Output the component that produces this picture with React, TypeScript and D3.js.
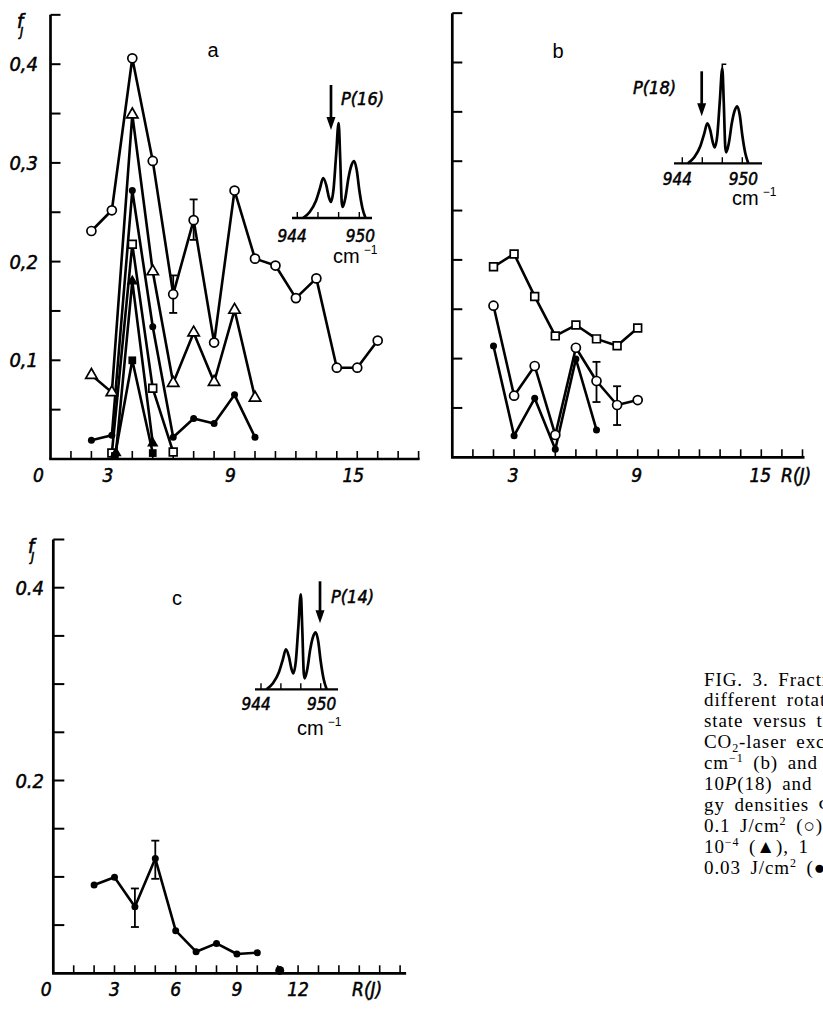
import React from 'react';
import * as d3 from 'd3';

// ---------------- DATA ----------------
// Panel a (excitation 10P(16))
const aCircleJ = [2, 3, 4, 5, 6, 7, 8, 9, 10, 11, 12, 13, 14, 15, 16];
const aCircleF = [0.231, 0.252, 0.406, 0.302, 0.167, 0.242, 0.118, 0.272, 0.203, 0.196, 0.163, 0.183, 0.0925, 0.0925, 0.12];
const aTriJ = [2, 3, 4, 5, 6, 7, 8, 9, 10];
const aTriF = [0.085, 0.0675, 0.349, 0.19, 0.077, 0.128, 0.078, 0.151, 0.062];
const aDotJ = [2, 3, 4, 5, 6, 7, 8, 9, 10];
const aDotF = [0.019, 0.024, 0.272, 0.134, 0.022, 0.041, 0.036, 0.065, 0.022];
const aSquareJ = [3, 4, 5, 6];
const aSquareF = [0.006, 0.2175, 0.0716, 0.007];
const aFilledTriJ = [3.2, 4, 5];
const aFilledTriF = [0.006, 0.18, 0.016];
const aFilledSqJ = [3.15, 4, 5];
const aFilledSqF = [0.003, 0.1, 0.006];
const aErrJ = [6, 7];
const aErrLo = [0.148, 0.222];
const aErrHi = [0.186, 0.263];

// Panel b (excitation 10P(18))
const bJ = [2, 3, 4, 5, 6, 7, 8, 9];
const bSquareF = [0.193, 0.206, 0.163, 0.123, 0.134, 0.12, 0.113, 0.131];
const bCircleF = [0.1536, 0.0624, 0.0925, 0.0226, 0.111, 0.0773, 0.053, 0.058];
const bDotJ = [2, 3, 4, 5, 6, 7];
const bDotF = [0.1128, 0.0219, 0.0598, 0.0081, 0.0996, 0.0277];
const bErrJ = [7, 8];
const bErrLo = [0.056, 0.0327];
const bErrHi = [0.0967, 0.072];

// Panel c (excitation 10P(14))
const cDotJ = [2, 3, 4, 5, 6, 7, 8, 9, 10];
const cDotF = [0.0916, 0.0996, 0.069, 0.119, 0.0442, 0.0224, 0.031, 0.02, 0.0214];
const cStrayJ = [11.1];
const cStrayF = [0.003];
const cErrJ = [4, 5];
const cErrLo = [0.048, 0.098];
const cErrHi = [0.088, 0.1376];

// Axis ticks / labels
const yTickVals = [0.05, 0.1, 0.15, 0.2, 0.25, 0.3, 0.35, 0.4, 0.45];
const aYLabelVals = [0.1, 0.2, 0.3, 0.4];
const aYLabels = ['0,1', '0,2', '0,3', '0,4'];
const cYLabelVals = [0.2, 0.4];
const cYLabels = ['0.2', '0.4'];
const aXLabelVals = [0, 3, 9, 15];
const bXLabelVals = [3, 9, 15];
const cXLabelVals = [0, 3, 6, 9, 12];

// Inset absorption spectrum (wavenumber cm^-1, relative height)
const specWn = [944.55, 945.2, 945.8, 946.2, 946.5, 946.8, 947.05, 947.25, 947.5, 947.75, 948.0, 948.15, 948.3, 948.4, 948.65, 948.95, 949.25, 949.5, 949.75, 950.0, 950.3, 950.6];
const specH = [0, 6, 17, 30, 40, 33, 21, 16, 28, 62, 95, 60, 16, 11, 20, 40, 53, 57, 48, 28, 10, 0];
const insetTickWn = [944, 946, 948, 950];
const insetLabelWn = [943.5, 950.1];
const insetLabels = ['944', '950'];
const laserWn = [947.26, 945.94, 949.93];
const laserLabels = ['P(16)', 'P(18)', 'P(14)'];

// Caption
type Seg = { t: string; s?: 'sub' | 'sup'; i?: boolean };
const captionLines: Seg[][] = [
  [{ t: 'FIG. 3. Fraction of molecules in' }],
  [{ t: 'different rotational states of the' }],
  [{ t: 'state versus the rotational quantum' }],
  [{ t: 'CO' }, { t: '2', s: 'sub' }, { t: '-laser excitation at 947.7' }],
  [{ t: 'cm' }, { t: '−1', s: 'sup' }, { t: ' (b) and 949.5 cm' }],
  [{ t: '10' }, { t: 'P', i: true }, { t: '(18) and 10' }, { t: 'P', i: true }, { t: '(14)' }],
  [{ t: 'gy densities Φ: 1 (○), 0.3' }],
  [{ t: '0.1 J/cm' }, { t: '2', s: 'sup' }, { t: ' (○), 0.03' }],
  [{ t: '10' }, { t: '−4', s: 'sup' }, { t: ' (▲), 1' }],
  [{ t: '0.03 J/cm' }, { t: '2', s: 'sup' }, { t: ' (●)' }],
];

// ---------------- STYLE ----------------
const AX_FONT = "'DejaVu Sans Condensed', 'DejaVu Sans', sans-serif";
const SANS = "'Liberation Sans', Arial, sans-serif";
const SERIF = "'Liberation Serif', 'Times New Roman', serif";

type Kind = 'circle' | 'tri' | 'dot' | 'square' | 'ftri' | 'fsq';

function Marker({ kind, x, y }: { kind: Kind; x: number; y: number }) {
  const t = `translate(${x},${y})`;
  if (kind === 'circle') return <circle cx={x} cy={y} r={4.5} fill="white" stroke="black" strokeWidth={1.7} />;
  if (kind === 'dot') return <circle cx={x} cy={y} r={3.5} fill="black" />;
  if (kind === 'tri') return <path transform={t} d={d3.symbol(d3.symbolTriangle, 56)() || ''} fill="white" stroke="black" strokeWidth={1.7} />;
  if (kind === 'ftri') return <path transform={t} d={d3.symbol(d3.symbolTriangle, 56)() || ''} fill="black" />;
  if (kind === 'square') return <path transform={t} d={d3.symbol(d3.symbolSquare, 60)() || ''} fill="white" stroke="black" strokeWidth={1.7} />;
  return <path transform={t} d={d3.symbol(d3.symbolSquare, 60)() || ''} fill="black" />;
}

type Series = { J: number[]; F: number[]; kind: Kind };
type Err = { J: number[]; lo: number[]; hi: number[] };

const axText = { fontFamily: AX_FONT, fontStyle: 'italic', fontStretch: 'condensed', stroke: 'black', strokeWidth: 0.5 } as const;

function Panel(props: {
  x: d3.ScaleLinear<number, number>;
  y: d3.ScaleLinear<number, number>;
  xTickMax: number;
  xAxisEnd: number;
  yTickLen: number;
  series: Series[];
  errs: Err[];
  yLabelVals?: number[];
  yLabels?: string[];
  yLabelX?: number;
  xLabelVals: number[];
  xLabelDx: number;
  zeroDx: number;
  xLabelBaseline: number;
  rjX?: number;
  fLabel?: [number, number];
  name: string;
  nameX: number;
  nameY: number;
}) {
  const { x, y } = props;
  const x0 = x(0);
  const y0 = y(0);
  const xTicks = d3.range(1, props.xTickMax + 1);
  return (
    <g>
      {/* axes */}
      <line x1={x0} y1={y0} x2={x0} y2={y(0.45)} stroke="black" strokeWidth={2.7} />
      <line x1={x0 - 1.3} y1={y0} x2={props.xAxisEnd} y2={y0} stroke="black" strokeWidth={2.7} />
      {yTickVals.map((v) => (
        <line key={'yt' + v} x1={x0} x2={x0 + props.yTickLen} y1={y(v)} y2={y(v)} stroke="black" strokeWidth={2} />
      ))}
      {xTicks.map((j) => (
        <line key={'xt' + j} x1={x(j)} x2={x(j)} y1={y0} y2={y0 - 8} stroke="black" strokeWidth={1.6} />
      ))}
      {props.yLabelVals &&
        props.yLabelVals.map((v, i) => (
          <text key={'yl' + v} x={props.yLabelX} y={y(v) + 7} textAnchor="end" fontSize={20} {...axText}>
            {props.yLabels![i]}
          </text>
        ))}
      {props.xLabelVals.map((v) => (
        <text key={'xl' + v} x={x(v) + (v === 0 ? props.zeroDx : props.xLabelDx)} y={props.xLabelBaseline} textAnchor="middle" fontSize={19} {...axText}>
          {String(v)}
        </text>
      ))}
      {props.rjX !== undefined && (
        <text x={props.rjX} y={props.xLabelBaseline} fontSize={19} {...axText}>
          R(J)
        </text>
      )}
      {props.fLabel && (
        <g {...axText} strokeWidth={0.6}>
          <text x={props.fLabel[0]} y={props.fLabel[1]} fontSize={20}>f</text>
          <text x={props.fLabel[0] + 3} y={props.fLabel[1] + 8} fontSize={12}>J</text>
        </g>
      )}
      <text x={props.nameX} y={props.nameY} textAnchor="middle" fontFamily={SANS} fontSize={20}>
        {props.name}
      </text>
      {/* lines */}
      {props.series.map((s, si) => {
        const line = d3
          .line<number>()
          .x((_, i) => x(s.J[i]))
          .y((f) => y(f));
        return <path key={'ln' + si} d={line(s.F) || ''} fill="none" stroke="black" strokeWidth={2.6} strokeLinejoin="round" />;
      })}
      {/* error bars */}
      {props.errs.map((e, ei) =>
        e.J.map((j, i) => (
          <g key={'er' + ei + '-' + i} stroke="black" strokeWidth={1.8}>
            <line x1={x(j)} x2={x(j)} y1={y(e.lo[i])} y2={y(e.hi[i])} />
            <line x1={x(j) - 4} x2={x(j) + 4} y1={y(e.lo[i])} y2={y(e.lo[i])} />
            <line x1={x(j) - 4} x2={x(j) + 4} y1={y(e.hi[i])} y2={y(e.hi[i])} />
          </g>
        ))
      )}
      {/* markers */}
      {props.series.map((s, si) => s.J.map((j, i) => <Marker key={'mk' + si + '-' + i} kind={s.kind} x={x(j)} y={y(s.F[i])} />))}
    </g>
  );
}

function Inset(props: {
  x944: number;
  x950: number;
  axisY: number;
  axisX0: number;
  axisX1: number;
  laser: number;
  laserTop: number;
  laserBottom: number;
  label: string;
  labelX: number;
  labelY: number;
  tickLabelY: number;
  cmX: number;
  cmY: number;
  hook?: boolean;
}) {
  const xs = d3.scaleLinear().domain([944, 950]).range([props.x944, props.x950]);
  const ys = d3.scaleLinear().domain([0, 100]).range([props.axisY, props.axisY - 100]);
  const line = d3
    .line<number>()
    .x((_, i) => xs(specWn[i]))
    .y((h) => ys(h))
    .curve(d3.curveMonotoneX);
  const ax = xs(props.laser);
  const aTop = ys(props.laserTop);
  const aBot = ys(props.laserBottom);
  const iPeak = specH.indexOf(d3.max(specH) as number);
  return (
    <g>
      <line x1={props.axisX0} x2={props.axisX1} y1={props.axisY} y2={props.axisY} stroke="black" strokeWidth={2.3} />
      {insetTickWn.map((w) => (
        <line key={w} x1={xs(w)} x2={xs(w)} y1={props.axisY} y2={props.axisY - 6} stroke="black" strokeWidth={1.4} />
      ))}
      <path d={line(specH) || ''} fill="none" stroke="black" strokeWidth={2.7} strokeLinejoin="round" />
      {props.hook && (
        <path d={`M${xs(specWn[iPeak])},${ys(specH[iPeak])} v-4 h4`} fill="none" stroke="black" strokeWidth={1.6} />
      )}
      {insetLabelWn.map((w, i) => (
        <text key={'il' + i} x={xs(w)} y={props.tickLabelY} textAnchor="middle" fontSize={17} {...axText}>
          {insetLabels[i]}
        </text>
      ))}
      <text x={props.cmX} y={props.cmY} fontFamily={SANS} fontSize={20}>
        cm
        <tspan fontSize={12} dy={-9} dx={4}>
          −1
        </tspan>
      </text>
      <line x1={ax} x2={ax} y1={aTop} y2={aBot - 10} stroke="black" strokeWidth={2.7} />
      <path d={`M${ax - 4.5},${aBot - 13} L${ax + 4.5},${aBot - 13} L${ax},${aBot} Z`} fill="black" />
      <text x={props.labelX} y={props.labelY} fontSize={18} {...axText}>
        {props.label}
      </text>
    </g>
  );
}

export default function App() {
  const xA = d3.scaleLinear().domain([0, 18]).range([50.5, 50.5 + 18 * 20.45]);
  const yA = d3.scaleLinear().domain([0, 0.45]).range([459, 459 - 0.45 * 987]);
  const xB = d3.scaleLinear().domain([0, 17]).range([452.3, 452.3 + 17 * 20.6]);
  const yB = d3.scaleLinear().domain([0, 0.45]).range([457.3, 457.3 - 0.45 * 987]);
  const xC = d3.scaleLinear().domain([0, 17]).range([53.3, 53.3 + 17 * 20.4]);
  const yC = d3.scaleLinear().domain([0, 0.45]).range([973.3, 973.3 - 0.45 * 964]);

  const seriesA: Series[] = [
    { J: aCircleJ, F: aCircleF, kind: 'circle' },
    { J: aTriJ, F: aTriF, kind: 'tri' },
    { J: aDotJ, F: aDotF, kind: 'dot' },
    { J: aSquareJ, F: aSquareF, kind: 'square' },
    { J: aFilledTriJ, F: aFilledTriF, kind: 'ftri' },
    { J: aFilledSqJ, F: aFilledSqF, kind: 'fsq' },
  ];
  const seriesB: Series[] = [
    { J: bJ, F: bSquareF, kind: 'square' },
    { J: bJ, F: bCircleF, kind: 'circle' },
    { J: bDotJ, F: bDotF, kind: 'dot' },
  ];
  const seriesC: Series[] = [{ J: cDotJ, F: cDotF, kind: 'dot' }];

  return (
    <svg width={823} height={1015} style={{ position: 'absolute', left: 0, top: 0, background: 'white' }}>
      <rect width={823} height={1015} fill="white" />
      <Panel
        x={xA}
        y={yA}
        xTickMax={18}
        xAxisEnd={xA(18) + 1}
        yTickLen={10}
        series={seriesA}
        errs={[{ J: aErrJ, lo: aErrLo, hi: aErrHi }]}
        yLabelVals={aYLabelVals}
        yLabels={aYLabels}
        yLabelX={38}
        xLabelVals={aXLabelVals}
        xLabelDx={-4}
        zeroDx={-12}
        xLabelBaseline={482}
        fLabel={[17, 28]}
        name="a"
        nameX={213}
        nameY={57}
      />
      <Panel
        x={xB}
        y={yB}
        xTickMax={17}
        xAxisEnd={xB(17) + 2}
        yTickLen={10}
        series={seriesB}
        errs={[{ J: bErrJ, lo: bErrLo, hi: bErrHi }]}
        xLabelVals={bXLabelVals}
        xLabelDx={-1}
        zeroDx={0}
        xLabelBaseline={482}
        rjX={781}
        name="b"
        nameX={558}
        nameY={58}
      />
      <Panel
        x={xC}
        y={yC}
        xTickMax={17}
        xAxisEnd={xC(17) + 6}
        yTickLen={11}
        series={seriesC}
        errs={[{ J: cErrJ, lo: cErrLo, hi: cErrHi }]}
        yLabelVals={cYLabelVals}
        yLabels={cYLabels}
        yLabelX={44}
        xLabelVals={cXLabelVals}
        xLabelDx={0}
        zeroDx={-7}
        xLabelBaseline={996}
        rjX={352}
        fLabel={[28, 553]}
        name="c"
        nameX={177}
        nameY={605}
      />
      {cStrayJ.map((j, i) => (
        <circle key={'st' + i} cx={xC(j)} cy={yC(cStrayF[i])} r={4.5} fill="black" />
      ))}

      <Inset x944={297.3} x950={359.3} axisY={218} axisX0={292} axisX1={372} laser={laserWn[0]} laserTop={133} laserBottom={88} label={laserLabels[0]} labelX={341} labelY={105} tickLabelY={242} cmX={333} cmY={263} />
      <Inset x944={682.3} x950={742.3} axisY={163.3} axisX0={674} axisX1={762} laser={laserWn[1]} laserTop={92} laserBottom={47} label={laserLabels[1]} labelX={633} labelY={94} tickLabelY={185} cmX={732} cmY={205} hook />
      <Inset x944={261} x950={320.7} axisY={689.3} axisX0={255} axisX1={338} laser={laserWn[2]} laserTop={108} laserBottom={66} label={laserLabels[2]} labelX={331} labelY={603} tickLabelY={710} cmX={297} cmY={735} />

      <g fontFamily={SERIF} fontSize={19} letterSpacing={0.9} wordSpacing={4}>
        {captionLines.map((segs, li) => (
          <text key={'cap' + li} x={704} y={685.5 + li * 20.9}>
            {segs.map((s, si) => {
              if (s.s === 'sup')
                return (
                  <tspan key={si} fontSize={12} dy={-7}>
                    {s.t}
                  </tspan>
                );
              if (s.s === 'sub')
                return (
                  <tspan key={si} fontSize={12} dy={4}>
                    {s.t}
                  </tspan>
                );
              const prev = segs[si - 1];
              const dy = prev && prev.s === 'sup' ? 7 : prev && prev.s === 'sub' ? -4 : 0;
              return (
                <tspan key={si} dy={dy} fontStyle={s.i ? 'italic' : 'normal'}>
                  {s.t}
                </tspan>
              );
            })}
          </text>
        ))}
      </g>
    </svg>
  );
}
